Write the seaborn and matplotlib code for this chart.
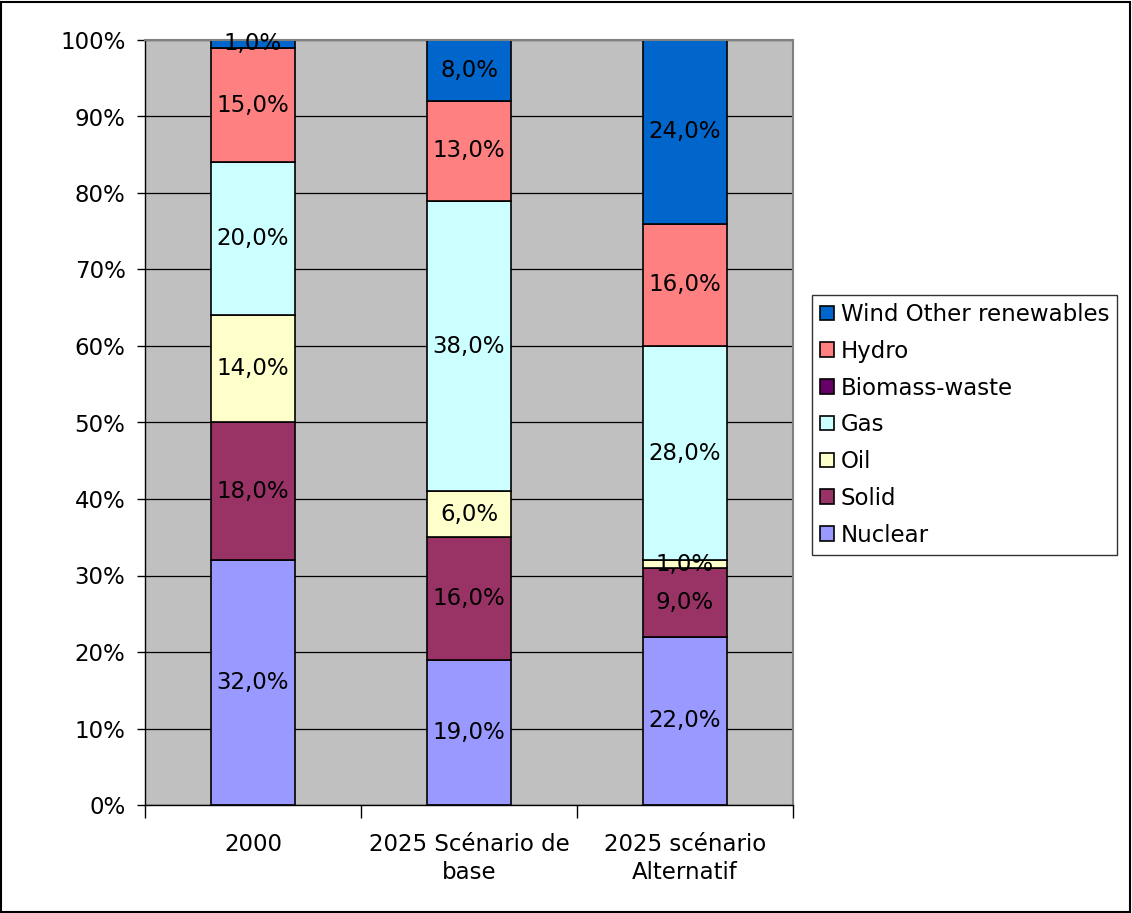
import pandas as pd
import seaborn as sns
import matplotlib.pyplot as plt
from matplotlib.patches import Rectangle
from matplotlib.ticker import FixedLocator, FuncFormatter

# ---------------- data ----------------
categories = ["2000", "2025 Scénario de\nbase", "2025 scénario\nAlternatif"]
sources = ["Wind Other renewables", "Hydro", "Biomass-waste", "Gas", "Oil", "Solid", "Nuclear"]
wind = [1, 8, 24]
hydro = [15, 13, 16]
biomass = [0, 0, 0]
gas = [20, 38, 28]
oil = [14, 6, 1]
solid = [18, 16, 9]
nuclear = [32, 19, 22]
colors = ["#0066CC", "#FF8080", "#660066", "#CCFFFF", "#FFFFCC", "#993366", "#9999FF"]

series = dict(zip(sources, [wind, hydro, biomass, gas, oil, solid, nuclear]))
rows = []
for src, vals in series.items():
    for cat, v in zip(categories, vals):
        rows.append({"cat": cat, "source": src, "share": v})
df = pd.DataFrame(rows)

# ---------------- plot ----------------
sns.set_style("ticks")
plt.rcParams["font.family"] = ["DejaVu Sans"]
plt.rcParams["text.color"] = "black"
plt.rcParams["xtick.color"] = "black"
plt.rcParams["ytick.color"] = "black"
fs = 16.5

fig = plt.figure(figsize=(11.32, 9.13), dpi=100)
ax = fig.add_axes([145 / 1132, 108 / 913, 648 / 1132, 765 / 913])
ax.set_facecolor("#C0C0C0")

sns.histplot(data=df, x="cat", weights="share", hue="source", hue_order=sources,
             palette=colors, multiple="stack", discrete=True, shrink=0.39,
             alpha=1, edgecolor="black", linewidth=1.2, ax=ax, legend=True)

for p in ax.patches:
    h = p.get_height()
    if h > 0:
        ax.text(p.get_x() + p.get_width() / 2, p.get_y() + h / 2,
                f"{h:.1f}".replace(".", ",") + "%", ha="center", va="center",
                fontsize=fs, color="black")

ax.set_ylim(0, 100)
ax.set_xlim(-0.5, 2.5)
ax.yaxis.set_major_locator(FixedLocator(range(0, 101, 10)))
ax.yaxis.set_major_formatter(FuncFormatter(lambda v, _: f"{int(v)}%"))
ax.yaxis.grid(True, color="black", linewidth=0.9)
ax.set_axisbelow(True)

ax.set_xticks([0, 1, 2])
ax.set_xticklabels(categories, fontsize=fs, linespacing=1.3)
ax.set_xticks([-0.5, 0.5, 1.5, 2.5], minor=True)
ax.tick_params(axis="x", which="major", length=0, pad=20)
ax.tick_params(axis="x", which="minor", length=9, width=1, color="black", direction="out")
ax.tick_params(axis="y", labelsize=fs, length=6, width=1, color="black", direction="out", pad=8)
ax.set_xlabel("")
ax.set_ylabel("")

for side in ["left", "bottom"]:
    ax.spines[side].set_color("black")
    ax.spines[side].set_linewidth(1)
for side in ["top", "right"]:
    ax.spines[side].set_visible(True)
    ax.spines[side].set_color("#808080")
    ax.spines[side].set_linewidth(1.5)

sns.move_legend(ax, "upper left", bbox_to_anchor=(812 / 1132, 618 / 913),
                bbox_transform=fig.transFigure, title=None, fontsize=fs,
                frameon=True, fancybox=False, edgecolor="black",
                handlelength=0.6, handleheight=0.6, handletextpad=0.3,
                labelspacing=0.6, borderpad=0.35, borderaxespad=0)
leg = ax.get_legend()
leg.get_frame().set_linewidth(1)
for t in leg.get_texts():
    t.set_color("black")
for hnd in leg.legend_handles:
    hnd.set_edgecolor("black")
    hnd.set_linewidth(1.2)

fig.patches.append(Rectangle((0.001, 0.001), 0.997, 0.997, transform=fig.transFigure,
                             fill=False, edgecolor="black", linewidth=1.5))

fig.savefig("out.png", dpi=100)
